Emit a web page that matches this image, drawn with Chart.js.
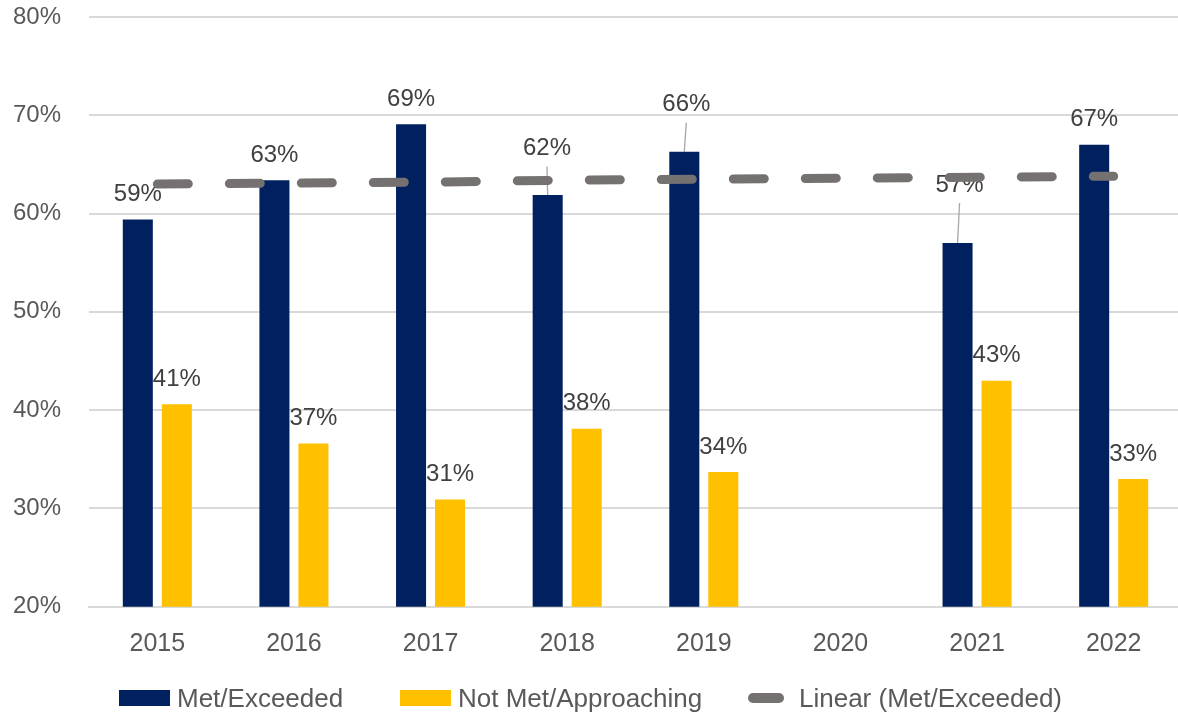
<!DOCTYPE html>
<html>
<head>
<meta charset="utf-8">
<script src="https://cdn.jsdelivr.net/npm/chart.js@4.4.1/dist/chart.umd.min.js"></script>
<style>
  html, body { margin: 0; padding: 0; background: #ffffff; }
  #wrap { position: relative; width: 1178px; height: 713px; overflow: hidden; background: #ffffff; }
  #chart { position: absolute; left: 0; top: 0; }
  .lg { position: absolute; top: 682px; height: 32px; display: flex; align-items: center;
        font-family: "Liberation Sans", Arial, sans-serif; font-size: 26px; color: #595959; white-space: nowrap; }
  .sw { display: inline-block; }
</style>
</head>
<body>
<div id="wrap">
  <canvas id="chart" width="1190" height="713"></canvas>
</div>
<script>
// ---- data ----
const categories = ['2015', '2016', '2017', '2018', '2019', '2020', '2021', '2022'];
const metExceeded = [59.4, 63.4, 69.1, 61.9, 66.3, null, 57.0, 67.0];
const notMetApproaching = [40.6, 36.6, 30.9, 38.1, 33.7, null, 43.0, 33.0];
const linearMetExceeded = [63.0, 63.1, 63.2, 63.4, 63.5, 63.6, 63.7, 63.8];
const seriesLabels = ['Met/Exceeded', 'Not Met/Approaching', 'Linear (Met/Exceeded)'];
const yTickValues = [20, 30, 40, 50, 60, 70, 80];

const NAVY = '#002060', GOLD = '#FFC000', TREND = '#767171';
const FONT = '"Liberation Sans", Arial, sans-serif';

const barLabels = {
  id: 'barLabels',
  beforeDatasetsDraw(chart, args, opts) {
    const ctx = chart.ctx;
    ctx.save();
    ctx.font = opts.size + 'px ' + FONT;
    ctx.fillStyle = opts.color;
    ctx.textAlign = 'center';
    ctx.textBaseline = 'alphabetic';
    [0, 1].forEach(di => {
      const ds = chart.data.datasets[di];
      chart.getDatasetMeta(di).data.forEach((el, i) => {
        const v = ds.data[i];
        if (v === null || v === undefined) return;
        const moved = (opts.moved[di] || {})[i];
        const lift = moved ? moved.lift : opts.lift;
        const lx = el.x + (moved ? moved.dx : 0);
        const ly = el.y - lift;
        if (moved) {
          ctx.save();
          ctx.strokeStyle = '#a6a6a6';
          ctx.lineWidth = 1.3;
          ctx.beginPath();
          ctx.moveTo(lx, ly + opts.leaderGap);
          ctx.lineTo(el.x, el.y);
          ctx.stroke();
          ctx.restore();
        }
        ctx.fillText(Math.round(v) + '%', lx, ly + opts.size * 0.358);
      });
    });
    ctx.restore();
  }
};

const chart = new Chart(document.getElementById('chart'), {
  data: {
    labels: categories,
    datasets: [
      { type: 'bar', label: seriesLabels[0], data: metExceeded, backgroundColor: NAVY,
        categoryPercentage: 0.571, barPercentage: 0.77, order: 2 },
      { type: 'bar', label: seriesLabels[1], data: notMetApproaching, backgroundColor: GOLD,
        categoryPercentage: 0.571, barPercentage: 0.77, order: 2 },
      { type: 'line', label: seriesLabels[2], data: linearMetExceeded, borderColor: TREND,
        borderWidth: 9, borderDash: [31, 41], borderCapStyle: 'round', pointRadius: 0,
        pointHoverRadius: 0, fill: false, tension: 0, order: 0 }
    ]
  },
  options: {
    responsive: false,
    animation: false,
    devicePixelRatio: 1,
    layout: { padding: { top: 17, right: 8, left: 0, bottom: 0 } },
    plugins: {
      legend: { display: false },
      tooltip: { enabled: false },
      barLabels: {
        size: 24, color: '#404040', lift: 27, leaderGap: 20,
        moved: { 0: { 3: { dx: -0.7, lift: 48.5 }, 4: { dx: 2, lift: 49 }, 6: { dx: 2, lift: 60 } } }
      }
    },
    scales: {
      x: {
        offset: true,
        grid: { display: false, drawTicks: false },
        border: { display: true, color: '#d9d9d9', width: 2 },
        ticks: { color: '#595959', font: { family: FONT, size: 25 }, padding: 22, maxRotation: 0 },
        afterFit(s) { s.height = 106.3; }
      },
      y: {
        min: 20, max: 80,
        afterBuildTicks(s) { s.ticks = yTickValues.map(v => ({ value: v })); },
        grid: { color: '#d9d9d9', lineWidth: 2, drawTicks: false },
        border: { display: false },
        ticks: { color: '#595959', font: { family: FONT, size: 24 }, padding: 28,
                 callback: v => v + '%' },
        afterFit(s) { s.width = 89; s.paddingTop = 0; s.paddingBottom = 0; }
      }
    }
  },
  plugins: [barLabels]
});

// ---- legend (real text) ----
const wrap = document.getElementById('wrap');
const legendLeft = [119, 400, 748];
chart.data.datasets.forEach((ds, i) => {
  const item = document.createElement('div');
  item.className = 'lg';
  item.style.left = legendLeft[i] + 'px';
  const sw = document.createElement('span');
  sw.className = 'sw';
  if (ds.type === 'line') {
    sw.style.cssText = 'width:36px;height:10px;border-radius:5px;margin-right:15px;background:' + ds.borderColor;
  } else {
    sw.style.cssText = 'width:51px;height:16px;margin-right:7px;background:' + ds.backgroundColor;
  }
  const tx = document.createElement('span');
  tx.textContent = ds.label;
  item.appendChild(sw);
  item.appendChild(tx);
  wrap.appendChild(item);
});
</script>
</body>
</html>
